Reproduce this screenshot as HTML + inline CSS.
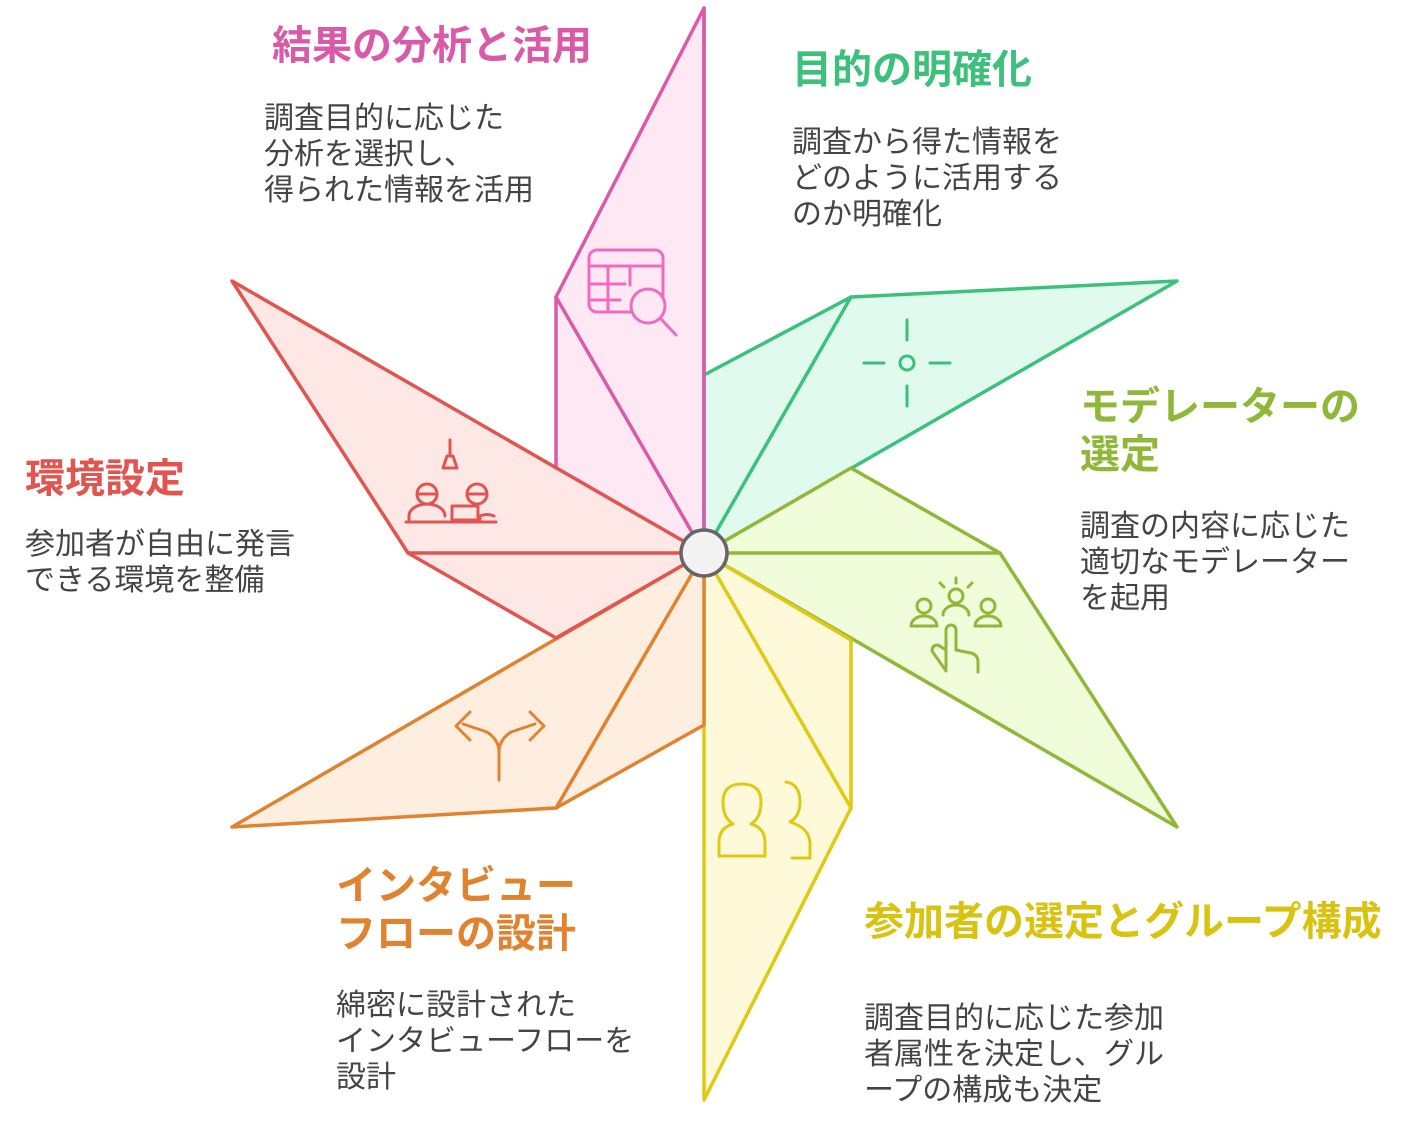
<!DOCTYPE html>
<html><head><meta charset="utf-8"><style>
body{margin:0;width:1404px;height:1124px;background:#fff;position:relative;overflow:hidden;font-family:"Liberation Sans","Noto Sans CJK JP",sans-serif}
.t{position:absolute;font-weight:bold;font-size:40px;line-height:48px;white-space:nowrap}
.b{position:absolute;font-size:30px;line-height:36px;color:#444;white-space:nowrap}
svg{position:absolute;left:0;top:0}
</style></head><body>
<svg width="1404" height="1124" viewBox="0 0 1404 1124" fill="none" stroke-linejoin="round" stroke-linecap="round">
<g stroke-width="3.5">
<polygon points="704,8 556,297 556,468 704,553" fill="#fde8f4" stroke="#d95aa8"/>
<line x1="556" y1="297" x2="704" y2="553" stroke="#d95aa8"/>
<polygon points="704,375 851,297 1177,281 704,553" fill="#e0fbee" stroke="#3cc07c"/>
<line x1="851" y1="297" x2="704" y2="553" stroke="#3cc07c"/>
<polygon points="704,553 851,468 1000,553 1177,827" fill="#f1fcdb" stroke="#8fb838"/>
<line x1="1000" y1="553" x2="704" y2="553" stroke="#8fb838"/>
<polygon points="704,553 851,640 851,808 704,1100" fill="#fef9d8" stroke="#e0c915"/>
<line x1="851" y1="808" x2="704" y2="553" stroke="#e0c915"/>
<polygon points="704,553 704,725 556,808 232,827" fill="#fdeedf" stroke="#e08330"/>
<line x1="556" y1="808" x2="704" y2="553" stroke="#e08330"/>
<polygon points="704,553 556,638 408,553 232,281" fill="#fde8e6" stroke="#e05550"/>
<line x1="408" y1="553" x2="704" y2="553" stroke="#e05550"/>
<line x1="704" y1="8" x2="704" y2="553" stroke="#d95aa8"/>
</g>
<circle cx="704" cy="553" r="23" fill="#f2f2f2" stroke="#666" stroke-width="3.5"/>
<g stroke="#f06bc0" stroke-width="3">
<rect x="589" y="250" width="74" height="62" rx="8"/>
<line x1="589" y1="266" x2="663" y2="266"/><line x1="589" y1="284" x2="625" y2="284"/><line x1="589" y1="300" x2="620" y2="300"/>
<line x1="608" y1="266" x2="608" y2="312"/><line x1="630" y1="266" x2="630" y2="285"/>
<circle cx="648" cy="306" r="17" fill="#fde8f4"/><line x1="661" y1="319" x2="676" y2="335"/>
</g>
<g stroke="#3cc07c" stroke-width="3">
<circle cx="907" cy="363" r="7"/><line x1="907" y1="320" x2="907" y2="340"/><line x1="907" y1="386" x2="907" y2="406"/>
<line x1="864" y1="363" x2="884" y2="363"/><line x1="930" y1="363" x2="950" y2="363"/>
</g>
<g stroke="#8fb838" stroke-width="3">
<circle cx="924" cy="606" r="7"/><path d="M911 626a13 10 0 0 1 26 0z"/>
<circle cx="956" cy="596" r="7"/><path d="M943 615a13 10 0 0 1 26 0"/>
<circle cx="988" cy="606" r="7"/><path d="M975 626a13 10 0 0 1 26 0z"/>
<line x1="956" y1="578" x2="956" y2="583"/><line x1="940" y1="583" x2="944" y2="587"/><line x1="972" y1="583" x2="968" y2="587"/>
<path d="M946 668v-38a5 5 0 0 1 10 0v20l15 3q7 2 7 9v10M946 650l-8-5q-6 0-6 6l14 20"/>
</g>
<g stroke="#e0c915" stroke-width="3">
<path d="M719 856v-14q0-14 14-18q-10-6-10-22q0-18 19-18q19 0 19 18q0 16-10 22q14 4 14 18v14z"/>
<path d="M786 782q14 2 14 20q0 14-10 20q20 6 20 22v14h-18"/>
</g>
<g stroke="#e08330" stroke-width="3">
<path d="M499 780v-28q0-12 -12-20l-24-8M499 752q0-12 12-20l24-8"/>
<path d="M470 712l-14 14l14 14M530 712l14 14l-14 14"/>
</g>
<g stroke="#e05550" stroke-width="3">
<line x1="450" y1="440" x2="450" y2="455"/><path d="M443 468l4-12h6l4 12z"/>
<circle cx="427" cy="494" r="10"/><path d="M418 494h18"/><path d="M409 520v-4a18 12 0 0 1 36 0"/>
<circle cx="477" cy="494" r="10"/><path d="M468 494h18"/>
<rect x="452" y="506" width="26" height="14"/><path d="M480 520v-4a14 10 0 0 1 14 0"/>
<line x1="406" y1="522" x2="496" y2="522"/>
</g>
</svg>
<div class="t" style="left:272px;top:22px;color:#d95aa8">結果の分析と活用</div>
<div class="b" style="left:264px;top:101px">調査目的に応じた<br>分析を選択し、<br>得られた情報を活用</div>
<div class="t" style="left:792px;top:46px;color:#3cc07c">目的の明確化</div>
<div class="b" style="left:792px;top:125px">調査から得た情報を<br>どのように活用する<br>のか明確化</div>
<div class="t" style="left:1080px;top:383px;color:#8fb838">モデレーターの<br>選定</div>
<div class="b" style="left:1080px;top:509px">調査の内容に応じた<br>適切なモデレーター<br>を起用</div>
<div class="t" style="left:25px;top:455px;color:#e05550">環境設定</div>
<div class="b" style="left:25px;top:527px">参加者が自由に発言<br>できる環境を整備</div>
<div class="t" style="left:336px;top:862px;color:#e08330">インタビュー<br>フローの設計</div>
<div class="b" style="left:336px;top:988px">綿密に設計された<br>インタビューフローを<br>設計</div>
<div class="t" style="left:864px;top:898px;color:#d9c210">参加者の選定とグループ構成</div>
<div class="b" style="left:864px;top:1001px">調査目的に応じた参加<br>者属性を決定し、グル<br>ープの構成も決定</div>
</body></html>
